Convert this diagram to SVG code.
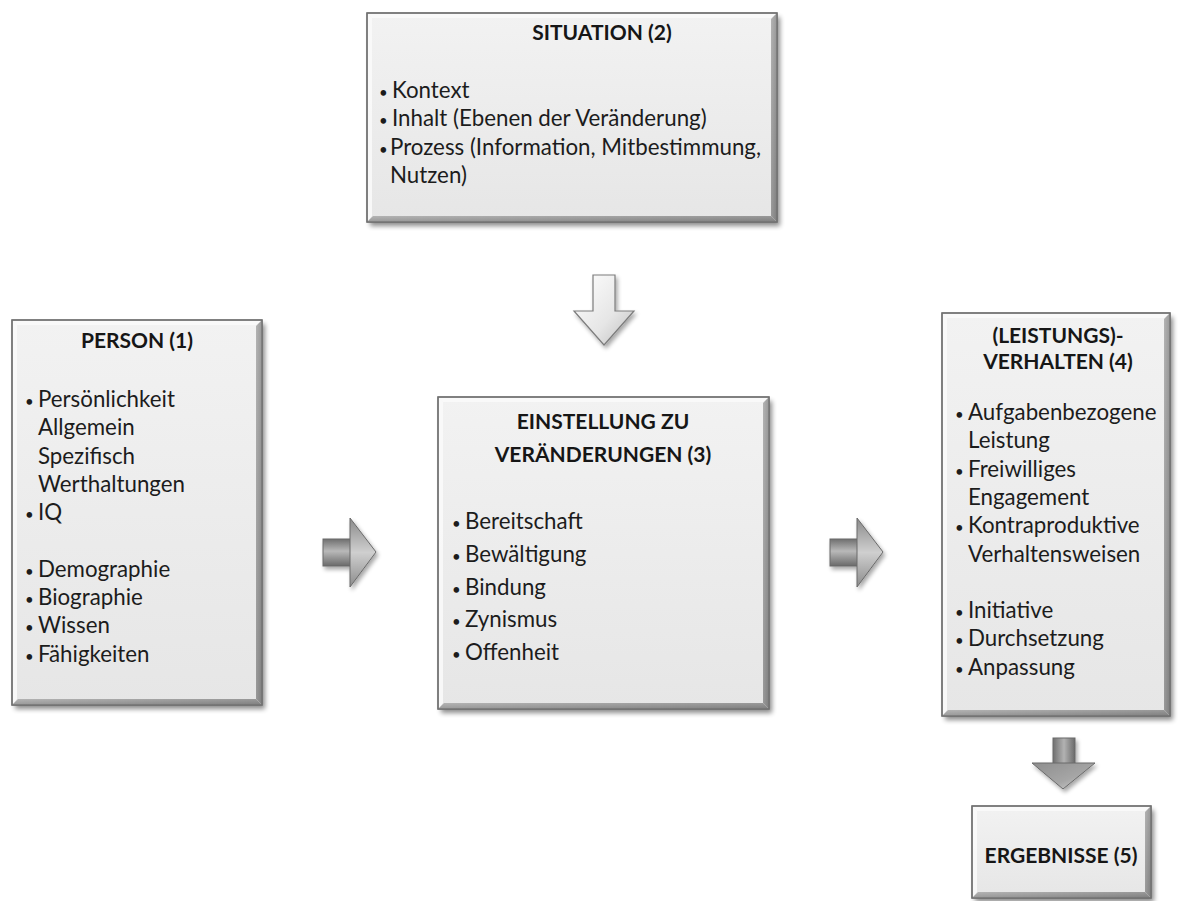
<svg xmlns="http://www.w3.org/2000/svg" width="1178" height="901" viewBox="0 0 1178 901">
  <defs>
    <style>
      .txt { font-family: Lato, "Liberation Sans", sans-serif; font-size: 22.3px; fill: #1c1c1c; }
      .bul { font-family: Lato, "Liberation Sans", sans-serif; font-size: 15px; fill: #1c1c1c; }
      .ttl { font-family: Lato, "Liberation Sans", sans-serif; font-size: 21px; font-weight: bold; fill: #161616; text-anchor: middle; }
      .face { fill: url(#faceGrad); stroke: #707070; stroke-width: 1.3; }
      .edge { fill: none; stroke: #707070; stroke-width: 1.3; }
      .shadow { fill: #000; opacity: 0.45; filter: url(#soft); }
      .bevDark { fill: url(#bevDarkGrad); }
      .bevLight { fill: #fafafa; opacity: 0.9; }
      .arrowDark { stroke: #6a6a6a; stroke-width: 1; filter: url(#arrowShadow); }
      .arrowLight { fill: url(#lightArrowGrad); stroke: #7c7c7c; stroke-width: 1.2; filter: url(#arrowShadow); }
    </style>
    <linearGradient id="faceGrad" x1="0" y1="0" x2="0" y2="1">
      <stop offset="0" stop-color="#f2f2f2"/>
      <stop offset="1" stop-color="#e6e6e6"/>
    </linearGradient>
    <linearGradient id="bevDarkGrad" x1="0" y1="0" x2="1" y2="1">
      <stop offset="0" stop-color="#b4b4b4"/>
      <stop offset="1" stop-color="#7e7e7e"/>
    </linearGradient>
    <linearGradient id="hArrowShaft" x1="0" y1="0" x2="0" y2="1">
      <stop offset="0" stop-color="#6f6f6f"/>
      <stop offset="0.45" stop-color="#b9b9b9"/>
      <stop offset="1" stop-color="#6a6a6a"/>
    </linearGradient>
    <linearGradient id="hArrowHead" x1="0" y1="0" x2="0" y2="1">
      <stop offset="0" stop-color="#8a8a8a"/>
      <stop offset="0.5" stop-color="#cfcfcf"/>
      <stop offset="1" stop-color="#8c8c8c"/>
    </linearGradient>
    <linearGradient id="vArrowShaft" x1="0" y1="0" x2="1" y2="0">
      <stop offset="0" stop-color="#6f6f6f"/>
      <stop offset="0.5" stop-color="#b2b2b2"/>
      <stop offset="1" stop-color="#6a6a6a"/>
    </linearGradient>
    <linearGradient id="vArrowHead" x1="0" y1="0" x2="1" y2="1">
      <stop offset="0" stop-color="#8e8e8e"/>
      <stop offset="0.6" stop-color="#a6a6a6"/>
      <stop offset="1" stop-color="#dcdcdc"/>
    </linearGradient>
    <linearGradient id="lightArrowGrad" x1="0" y1="0" x2="1" y2="1">
      <stop offset="0" stop-color="#ffffff"/>
      <stop offset="0.6" stop-color="#e6e6e6"/>
      <stop offset="1" stop-color="#bdbdbd"/>
    </linearGradient>
    <filter id="soft" x="-10%" y="-10%" width="120%" height="120%">
      <feGaussianBlur stdDeviation="2.5"/>
    </filter>
    <filter id="arrowShadow" x="-30%" y="-30%" width="160%" height="160%">
      <feGaussianBlur in="SourceAlpha" stdDeviation="2"/>
      <feOffset dx="2" dy="3" result="b"/>
      <feComponentTransfer><feFuncA type="linear" slope="0.35"/></feComponentTransfer>
      <feMerge><feMergeNode/><feMergeNode in="SourceGraphic"/></feMerge>
    </filter>
  </defs>

  <rect width="1178" height="901" fill="#ffffff"/>

  <!-- Block arrows between the boxes -->
  <g id="connectors">
    <!-- Situation -> Einstellung (light, pointing down) -->
    <path class="arrowLight" d="M593,275 H615 V311 H634 L604,345 L574,311 H593 Z"/>
    <!-- Person -> Einstellung -->
    <g class="arrowDark">
      <rect x="323" y="539" width="28" height="27" fill="url(#hArrowShaft)"/>
      <path d="M350,518 L376,552 L350,587 Z" fill="url(#hArrowHead)"/>
    </g>
    <!-- Einstellung -> Verhalten -->
    <g class="arrowDark">
      <rect x="830" y="539" width="28" height="27" fill="url(#hArrowShaft)"/>
      <path d="M857,518 L883,552 L857,587 Z" fill="url(#hArrowHead)"/>
    </g>
    <!-- Verhalten -> Ergebnisse -->
    <g class="arrowDark">
      <rect x="1053" y="738" width="22" height="26" fill="url(#vArrowShaft)"/>
      <path d="M1032,763 L1095,763 L1063,789 Z" fill="url(#vArrowHead)"/>
    </g>
  </g>

  <!-- SITUATION (2) -->
  <g id="node-situation">
    <rect class="shadow" x="370" y="17" width="410" height="209"/>
    <rect class="face" x="367" y="13" width="410" height="209"/>
    <polygon class="bevLight" points="368,14 776,14 771,18 372,18"/>
    <polygon class="bevLight" points="368,14 368,221 372,216 372,18"/>
    <polygon class="bevDark" points="777,13 777,222 771,216 771,19"/>
    <polygon class="bevDark" points="367,222 777,222 771,216 373,216"/>
    <rect class="edge" x="367" y="13" width="410" height="209"/>
    <text class="ttl" x="602" y="40">SITUATION (2)</text>
    <text class="bul" x="379" y="97.5">•</text>
    <text class="txt" x="392" y="97.5">Kontext</text>
    <text class="bul" x="379" y="126">•</text>
    <text class="txt" x="392" y="126">Inhalt (Ebenen der Veränderung)</text>
    <text class="bul" x="379" y="154.5">•</text>
    <text class="txt" x="390" y="154.5">Prozess (Information, Mitbestimmung,</text>
    <text class="txt" x="390" y="183">Nutzen)</text>
  </g>

  <!-- PERSON (1) -->
  <g id="node-person">
    <rect class="shadow" x="15" y="324" width="250" height="385"/>
    <rect class="face" x="12" y="320" width="250" height="385"/>
    <polygon class="bevLight" points="13,321 261,321 256,325 17,325"/>
    <polygon class="bevLight" points="13,321 13,704 17,699 17,325"/>
    <polygon class="bevDark" points="262,320 262,705 256,699 256,326"/>
    <polygon class="bevDark" points="12,705 262,705 256,699 18,699"/>
    <rect class="edge" x="12" y="320" width="250" height="385"/>
    <text class="ttl" x="137" y="348">PERSON (1)</text>
    <text class="bul" x="25" y="407">•</text>
    <text class="txt" x="38" y="407">Persönlichkeit</text>
    <text class="txt" x="38" y="435.3">Allgemein</text>
    <text class="txt" x="38" y="463.6">Spezifisch</text>
    <text class="txt" x="38" y="491.9">Werthaltungen</text>
    <text class="bul" x="25" y="520.2">•</text>
    <text class="txt" x="38" y="520.2">IQ</text>
    <text class="bul" x="25" y="576.8">•</text>
    <text class="txt" x="38" y="576.8">Demographie</text>
    <text class="bul" x="25" y="605.1">•</text>
    <text class="txt" x="38" y="605.1">Biographie</text>
    <text class="bul" x="25" y="633.4">•</text>
    <text class="txt" x="38" y="633.4">Wissen</text>
    <text class="bul" x="25" y="661.7">•</text>
    <text class="txt" x="38" y="661.7">Fähigkeiten</text>
  </g>

  <!-- EINSTELLUNG ZU VERÄNDERUNGEN (3) -->
  <g id="node-einstellung">
    <rect class="shadow" x="441" y="401" width="331" height="312"/>
    <rect class="face" x="438" y="397" width="331" height="312"/>
    <polygon class="bevLight" points="439,398 768,398 763,402 443,402"/>
    <polygon class="bevLight" points="439,398 439,708 443,703 443,402"/>
    <polygon class="bevDark" points="769,397 769,709 763,703 763,403"/>
    <polygon class="bevDark" points="438,709 769,709 763,703 444,703"/>
    <rect class="edge" x="438" y="397" width="331" height="312"/>
    <text class="ttl" x="603" y="429">EINSTELLUNG ZU</text>
    <text class="ttl" x="603" y="462">VERÄNDERUNGEN (3)</text>
    <text class="bul" x="452" y="529">•</text>
    <text class="txt" x="465" y="529">Bereitschaft</text>
    <text class="bul" x="452" y="562">•</text>
    <text class="txt" x="465" y="562">Bewältigung</text>
    <text class="bul" x="452" y="595">•</text>
    <text class="txt" x="465" y="595">Bindung</text>
    <text class="bul" x="452" y="627">•</text>
    <text class="txt" x="465" y="627">Zynismus</text>
    <text class="bul" x="452" y="660">•</text>
    <text class="txt" x="465" y="660">Offenheit</text>
  </g>

  <!-- (LEISTUNGS)-VERHALTEN (4) -->
  <g id="node-verhalten">
    <rect class="shadow" x="945" y="317" width="228" height="403"/>
    <rect class="face" x="942" y="313" width="228" height="403"/>
    <polygon class="bevLight" points="943,314 1169,314 1164,318 947,318"/>
    <polygon class="bevLight" points="943,314 943,715 947,710 947,318"/>
    <polygon class="bevDark" points="1170,313 1170,716 1164,710 1164,319"/>
    <polygon class="bevDark" points="942,716 1170,716 1164,710 948,710"/>
    <rect class="edge" x="942" y="313" width="228" height="403"/>
    <text class="ttl" x="1058" y="343">(LEISTUNGS)-</text>
    <text class="ttl" x="1058" y="369">VERHALTEN (4)</text>
    <text class="bul" x="955" y="420">•</text>
    <text class="txt" x="968" y="420">Aufgabenbezogene</text>
    <text class="txt" x="968" y="448.3">Leistung</text>
    <text class="bul" x="955" y="476.6">•</text>
    <text class="txt" x="968" y="476.6">Freiwilliges</text>
    <text class="txt" x="968" y="504.9">Engagement</text>
    <text class="bul" x="955" y="533.2">•</text>
    <text class="txt" x="968" y="533.2">Kontraproduktive</text>
    <text class="txt" x="968" y="561.5">Verhaltensweisen</text>
    <text class="bul" x="955" y="618.1">•</text>
    <text class="txt" x="968" y="618.1">Initiative</text>
    <text class="bul" x="955" y="646.4">•</text>
    <text class="txt" x="968" y="646.4">Durchsetzung</text>
    <text class="bul" x="955" y="674.7">•</text>
    <text class="txt" x="968" y="674.7">Anpassung</text>
  </g>

  <!-- ERGEBNISSE (5) -->
  <g id="node-ergebnisse">
    <rect class="shadow" x="975" y="810" width="179" height="92"/>
    <rect class="face" x="972" y="806" width="179" height="92"/>
    <polygon class="bevLight" points="973,807 1150,807 1145,811 977,811"/>
    <polygon class="bevLight" points="973,807 973,897 977,892 977,811"/>
    <polygon class="bevDark" points="1151,806 1151,898 1145,892 1145,812"/>
    <polygon class="bevDark" points="972,898 1151,898 1145,892 978,892"/>
    <rect class="edge" x="972" y="806" width="179" height="92"/>
    <text class="ttl" x="1061" y="863">ERGEBNISSE (5)</text>
  </g>
</svg>
